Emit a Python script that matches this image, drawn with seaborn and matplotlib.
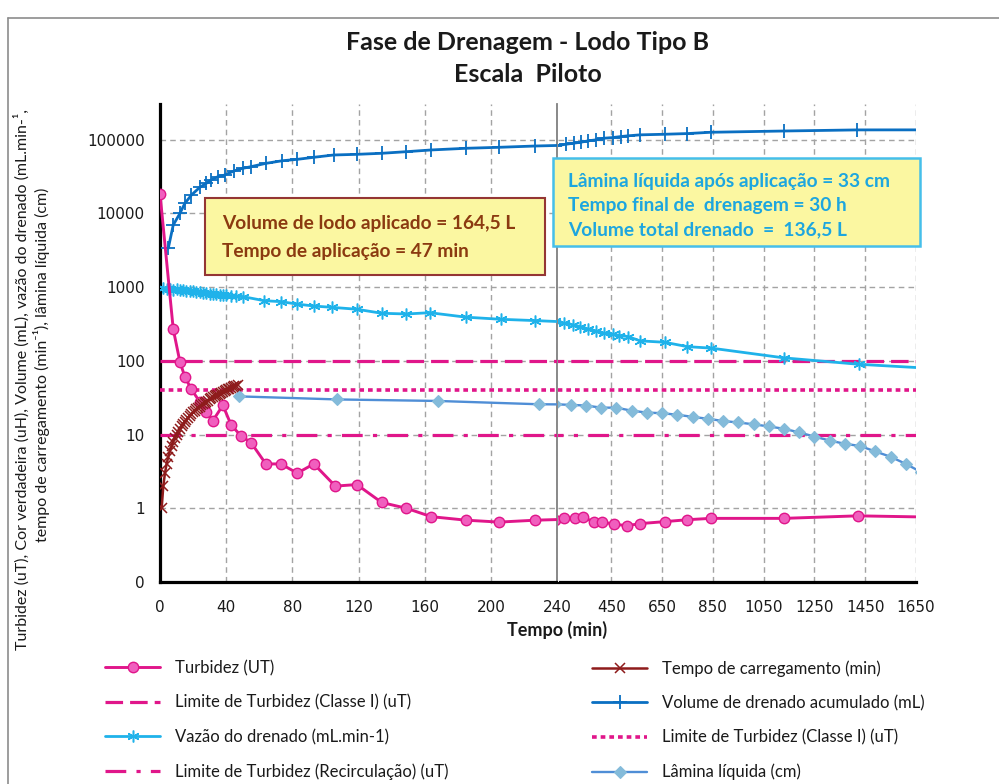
import matplotlib
matplotlib.use("Agg")
import matplotlib.pyplot as plt
import seaborn as sns
from matplotlib.patches import Rectangle
from matplotlib.lines import Line2D
from matplotlib.ticker import NullLocator

# ---------------- data ----------------
# Turbidez (UT)
turb_t = [0, 8, 12, 15, 19, 24, 28, 32, 38, 43, 49, 55, 64, 73, 83, 93, 106, 119,
          134, 149, 164, 185, 205, 227, 265, 307, 337, 380, 412, 461, 511, 564,
          662, 750, 841, 1129, 1420, 1800]
turb_ut = [18500, 270, 98, 61, 41, 28, 20, 15.5, 25, 13.5, 9.6, 7.8, 4.0, 4.0, 3.0,
           4.0, 2.0, 2.1, 1.2, 1.0, 0.77, 0.69, 0.65, 0.69, 0.73, 0.73, 0.77, 0.65,
           0.65, 0.61, 0.58, 0.62, 0.66, 0.70, 0.73, 0.73, 0.79, 0.75]

# Tempo de carregamento (min)
carga_t = [1, 2, 3, 4, 5, 6, 7, 8, 9, 10, 11, 12, 13, 14, 15, 16, 17, 18, 19, 20,
           21, 22, 23, 24, 25, 26, 27, 28, 29, 30, 31, 32, 33, 34, 35, 36, 37, 38,
           39, 40, 41, 42, 43, 44, 45, 46, 47]
carga_min = [1, 2, 3, 4, 5, 6, 7, 8, 9, 10, 11, 12, 13, 14, 15, 16, 17, 18, 19, 20,
             21, 22, 23, 24, 25, 26, 27, 28, 29, 30, 31, 32, 33, 34, 35, 36, 37, 38,
             39, 40, 41, 42, 43, 44, 45, 46, 47]

# Volume de drenado acumulado (mL)
vol_t = [5, 8, 12, 15, 19, 24, 28, 31, 35, 39, 45, 50, 55, 64, 74, 83, 93, 105, 119,
         134, 149, 164, 185, 205, 227, 271, 302, 330, 359, 389, 420, 455, 488, 514,
         563, 660, 750, 841, 1129, 1418, 1800]
vol_ml = [3370, 6980, 10000, 13700, 17800, 22600, 25700, 28500, 31600, 33200, 38000,
          41000, 43200, 47900, 52000, 54300, 57900, 62200, 63500, 65600, 69000, 72800,
          76700, 79100, 82400, 87000, 90000, 92700, 96800, 99800, 105000, 107200,
          110700, 113100, 116700, 118900, 121500, 126500, 131600, 136200, 136500]

# Vazão do drenado (mL.min-1)
vaz_t = [2, 4, 6, 8, 10, 12, 14, 16, 18, 20, 22, 24, 26, 28, 30, 32, 34, 36, 38, 40,
         43, 46, 50, 63, 73, 83, 93, 104, 119, 134, 149, 163, 185, 206, 227, 265, 298,
         328, 357, 389, 422, 455, 481, 516, 563, 660, 750, 844, 1129, 1424, 1800]
vaz_ml_min = [970, 950, 960, 930, 940, 910, 905, 890, 880, 875, 860, 850, 845, 830,
              820, 815, 800, 795, 790, 780, 765, 750, 746, 656, 637, 590, 555, 533,
              502, 443, 433, 451, 392, 367, 352, 324, 309, 292, 272, 255, 237, 230,
              221, 214, 187, 179, 156, 149, 110, 90, 76]

# Lâmina líquida (cm)
lam_t = [48, 107, 168, 229, 290, 350, 410, 470, 530, 590, 650, 710, 770, 830, 890,
         950, 1010, 1070, 1130, 1190, 1250, 1310, 1370, 1430, 1490, 1550, 1610, 1670]
lam_cm = [33, 30, 28.6, 25.8, 25.3, 24.8, 23.2, 23.2, 21.1, 19.9, 19.5, 18.6, 17.4,
          16.4, 15.3, 14.6, 13.8, 12.9, 12.0, 10.7, 9.4, 8.3, 7.5, 7.0, 5.9, 5.0,
          4.0, 3.1]

# Limites de turbidez (uT)
lim_t = [0, 1800]
lim_classe1 = [100, 100]
lim_classe1_b = [40, 40]
lim_recirc = [10, 10]

# axis ticks
ticks_left = [0, 40, 80, 120, 160, 200, 240]
ticks_right = [450, 650, 850, 1050, 1250, 1450, 1650]
y_ticks = [0.1, 1, 10, 100, 1000, 10000, 100000]
y_tick_labels = ["0", "1", "10", "100", "1000", "10000", "100000"]

# ---------------- style ----------------
sns.set_theme(style="white")
plt.rcParams["font.family"] = ["Lato", "DejaVu Sans"]

W, H = 999, 784
fig = plt.figure(figsize=(W / 100, H / 100), dpi=100)
fig.patch.set_facecolor("white")


def fx(px):
    return px / W


def fy(py):
    return 1 - py / H


ax1 = fig.add_axes([fx(160), fy(582), fx(557 - 160), (582 - 104) / H])
ax2 = fig.add_axes([fx(558), fy(582), fx(916 - 558), (582 - 104) / H], sharey=ax1)

PINK = "#E0168A"
PINK_FACE = "#F05FBE"
DARKRED = "#8E1B1B"
BLUE = "#0A6FC2"
CYAN = "#1FB2EA"
STEEL = "#4F8ED6"
STEEL_FACE = "#84BBDA"
TXT = "#1a1a1a"


def series(ax, x, y, **kw):
    sns.lineplot(x=x, y=y, ax=ax, estimator=None, sort=False, legend=False, **kw)
    return ax.lines[-1]


handles = {}
for i, ax in enumerate((ax1, ax2)):
    ax.set_yscale("log")
    h = {}
    h["turb"] = series(ax, turb_t, turb_ut, color=PINK, linewidth=2.1, marker="o",
                       markersize=7.5, markerfacecolor=PINK_FACE,
                       markeredgecolor=PINK, markeredgewidth=1.0, zorder=6)
    h["carga"] = series(ax, carga_t, carga_min, color=DARKRED, linewidth=1.8,
                        marker="x", markersize=6.5, markeredgecolor=DARKRED,
                        markeredgewidth=1.1, zorder=7)
    h["lim1"] = series(ax, lim_t, lim_classe1, color=PINK, linewidth=2.3,
                       linestyle=(0, (5.5, 2.2)), zorder=3)
    h["vol"] = series(ax, vol_t, vol_ml, color=BLUE, linewidth=2.0, marker="+",
                      markersize=10, markeredgecolor=BLUE, markeredgewidth=1.3,
                      zorder=5)
    h["vaz"] = series(ax, vaz_t, vaz_ml_min, color=CYAN, linewidth=2.0,
                      marker=(6, 2, 0), markersize=8.5, markeredgecolor=CYAN,
                      markeredgewidth=1.1, zorder=5)
    h["lim1b"] = series(ax, lim_t, lim_classe1_b, color=PINK, linewidth=2.6,
                        linestyle=(0, (1.3, 1.1)), zorder=3)
    h["recirc"] = series(ax, lim_t, lim_recirc, color=PINK, linewidth=2.3,
                         linestyle=(0, (6.5, 3.2, 1.3, 3.2)), zorder=3)
    h["lam"] = series(ax, lam_t, lam_cm, color=STEEL, linewidth=1.7, marker="D",
                      markersize=6.5, markerfacecolor=STEEL_FACE,
                      markeredgecolor=STEEL_FACE, markeredgewidth=0.8, zorder=4)
    if i == 0:
        handles = h

ax1.set_ylim(0.1, 3.06e5)
ax1.set_xlim(0, 240)
ax2.set_xlim(240, 1650)

for ax in (ax1, ax2):
    ax.set_xlabel("")
    ax.set_ylabel("")
    ax.set_facecolor("white")
    ax.yaxis.set_minor_locator(NullLocator())
    ax.grid(True, which="major", color="#A3A3A3", linestyle=(0, (4, 3)),
            linewidth=1.0)
    ax.set_axisbelow(True)
    ax.spines["top"].set_visible(False)
    ax.tick_params(axis="both", length=0, labelcolor=TXT)

ax1.set_yticks(y_ticks)
ax1.set_yticklabels(y_tick_labels, family="DejaVu Sans", fontsize=11)
ax1.tick_params(axis="y", pad=11)
ax1.set_xticks(ticks_left)
ax1.set_xticklabels([str(t) for t in ticks_left], family="DejaVu Sans", fontsize=11)
ax2.set_xticks(ticks_right)
ax2.set_xticklabels([str(t) for t in ticks_right], family="DejaVu Sans", fontsize=11)
for ax in (ax1, ax2):
    ax.tick_params(axis="x", pad=13)
ax2.tick_params(axis="y", labelleft=False, left=False)

ax1.spines["left"].set_color("black")
ax1.spines["left"].set_linewidth(2.3)
ax1.spines["bottom"].set_color("black")
ax1.spines["bottom"].set_linewidth(2.3)
ax1.spines["right"].set_color("#808080")
ax1.spines["right"].set_linewidth(1.3)
ax2.spines["left"].set_visible(False)
ax2.spines["right"].set_visible(False)
ax2.spines["bottom"].set_color("black")
ax2.spines["bottom"].set_linewidth(2.3)
ax2.spines["bottom"].set_bounds(248, 1650)

# ---------------- titles and axis labels ----------------
fig.text(fx(528), fy(43), "Fase de Drenagem - Lodo Tipo B", ha="center",
         va="center", fontsize=18, fontweight="bold", color=TXT)
fig.text(fx(528), fy(74), "Escala  Piloto", ha="center", va="center",
         fontsize=18, fontweight="bold", color=TXT)
fig.text(fx(557), fy(630), "Tempo (min)", ha="center", va="center",
         fontsize=13, fontweight="bold", color=TXT)
fig.text(fx(22), fy(379),
         "Turbidez (uT), Cor verdadeira (uH), Volume (mL), vazão do drenado (mL.min-¹,",
         rotation=90, ha="center", va="center", fontsize=11.5, color=TXT)
fig.text(fx(42), fy(365), "tempo de carregamento (min⁻¹), lâmina líquida (cm)",
         rotation=90, ha="center", va="center", fontsize=11.5, color=TXT)

# ---------------- annotation boxes ----------------
YELLOW = "#FBF7A1"
fig.add_artist(Rectangle((fx(205), fy(275)), fx(545 - 205), (275 - 198) / H,
                         transform=fig.transFigure, facecolor=YELLOW,
                         edgecolor="#943634", linewidth=1.5, zorder=10))
for py, txt in [(224, "Volume de lodo aplicado = 164,5 L"),
                (251, "Tempo de aplicação = 47 min")]:
    fig.text(fx(222), fy(py), txt, ha="left", va="center", fontsize=13.8,
             fontweight="bold", color="#8B3A10", zorder=11)

fig.add_artist(Rectangle((fx(553), fy(246)), fx(920 - 553), (246 - 158) / H,
                         transform=fig.transFigure, facecolor=YELLOW,
                         edgecolor="#45BFEA", linewidth=1.8, zorder=10))
for py, txt in [(181, "Lâmina líquida após aplicação = 33 cm"),
                (205, "Tempo final de  drenagem = 30 h"),
                (230, "Volume total drenado  =  136,5 L")]:
    fig.text(fx(568), fy(py), txt, ha="left", va="center", fontsize=13.8,
             fontweight="bold", color="#1DA6DF", zorder=11)

# ---------------- legend ----------------
leg_kw = dict(loc="upper left", frameon=False, fontsize=12, borderpad=0,
              borderaxespad=0, handlelength=3.3, handletextpad=0.9,
              labelspacing=1.1, numpoints=1, labelcolor=TXT)
fig.legend([handles["turb"], handles["lim1"], handles["vaz"], handles["recirc"]],
           ["Turbidez (UT)", "Limite de Turbidez (Classe I) (uT)",
            "Vazão do drenado (mL.min-1)",
            "Limite de Turbidez (Recirculação) (uT)"],
           bbox_to_anchor=(fx(105), fy(660)), **leg_kw)
fig.legend([handles["carga"], handles["vol"], handles["lim1b"], handles["lam"]],
           ["Tempo de carregamento (min)", "Volume de drenado acumulado (mL)",
            "Limite de Turbidez (Classe I) (uT)", "Lâmina líquida (cm)"],
           bbox_to_anchor=(fx(592), fy(660)), **leg_kw)

# ---------------- outer frame ----------------
fig.add_artist(Line2D([fx(8), fx(8)], [fy(18), -0.01], transform=fig.transFigure,
                      color="#8C8C8C", linewidth=1.2))
fig.add_artist(Line2D([fx(8), 1.01], [fy(18), fy(18)], transform=fig.transFigure,
                      color="#8C8C8C", linewidth=1.2))

fig.savefig("out.png", dpi=100)
